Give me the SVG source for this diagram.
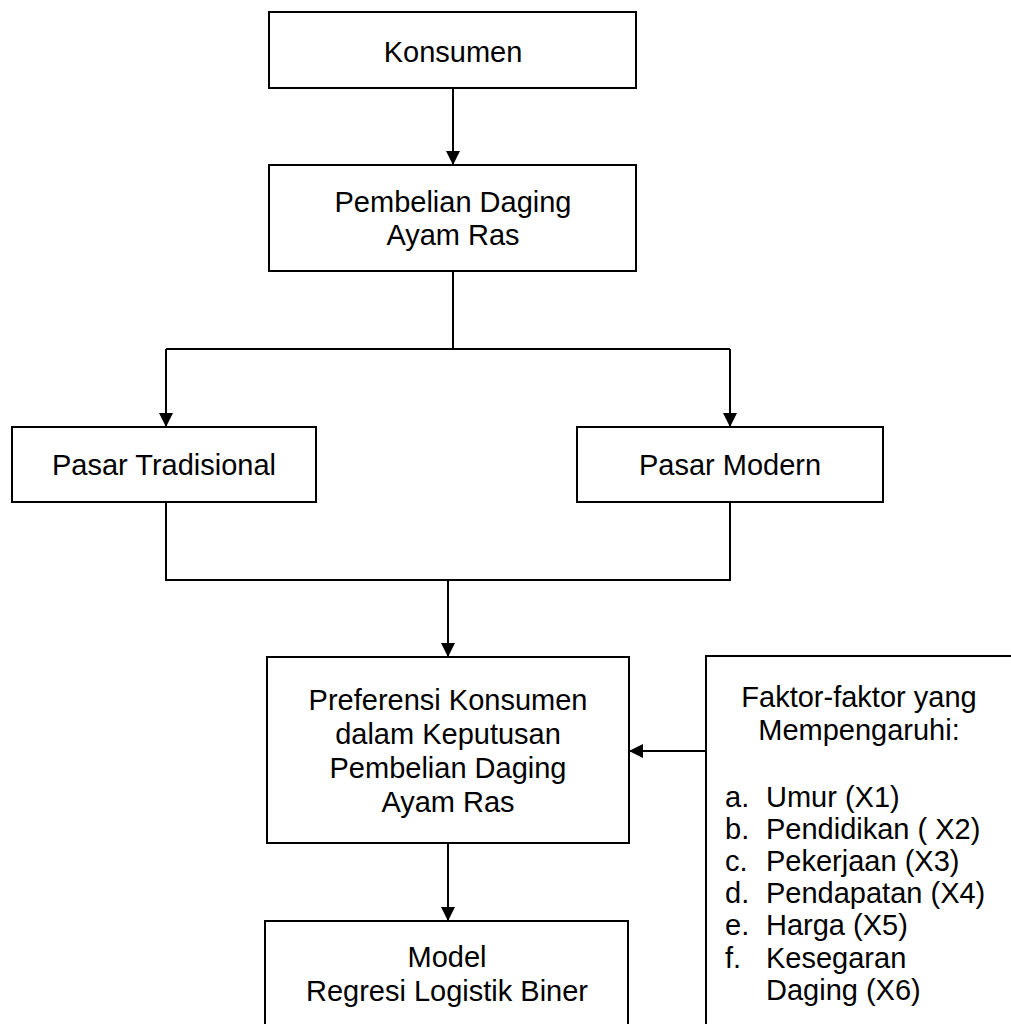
<svg xmlns="http://www.w3.org/2000/svg" width="1011" height="1024" viewBox="0 0 1011 1024">
<defs>
<marker id="arr" markerUnits="userSpaceOnUse" markerWidth="14" markerHeight="14" viewBox="0 0 14 14" refX="14" refY="7" orient="auto">
<path d="M0,0 L14,7 L0,14 z" fill="#000"/>
</marker>
<style>
.box{fill:#fff;stroke:#000;stroke-width:2}
.ln{fill:none;stroke:#000;stroke-width:2}
text{font-family:"Liberation Sans",Arial,sans-serif;font-size:29px;fill:#000}
.c{text-anchor:middle}
</style>
</defs>
<rect width="1011" height="1024" fill="#fff"/>
<g id="connectors">
<line class="ln" x1="453" y1="88" x2="453" y2="165" marker-end="url(#arr)"/>
<polyline class="ln" points="453,271 453,349"/>
<polyline class="ln" points="166,349 730,349"/>
<line class="ln" x1="166" y1="349" x2="166" y2="427" marker-end="url(#arr)"/>
<line class="ln" x1="730" y1="349" x2="730" y2="427" marker-end="url(#arr)"/>
<polyline class="ln" points="166,502 166,580 730,580 730,502"/>
<line class="ln" x1="448" y1="580" x2="448" y2="657" marker-end="url(#arr)"/>
<line class="ln" x1="448" y1="843" x2="448" y2="921" marker-end="url(#arr)"/>
<line class="ln" x1="706" y1="751" x2="629" y2="751" marker-end="url(#arr)"/>
</g>
<g id="konsumen">
<rect class="box" x="269" y="12" width="367" height="76"/>
<text class="c" x="453" y="62">Konsumen</text>
</g>
<g id="pembelian">
<rect class="box" x="269" y="165" width="367" height="106"/>
<text class="c" x="453" y="212">Pembelian Daging</text>
<text class="c" x="453" y="245">Ayam Ras</text>
</g>
<g id="pasar-tradisional">
<rect class="box" x="12" y="427" width="304" height="75"/>
<text class="c" x="164" y="475">Pasar Tradisional</text>
</g>
<g id="pasar-modern">
<rect class="box" x="577" y="427" width="306" height="75"/>
<text class="c" x="730" y="475">Pasar Modern</text>
</g>
<g id="preferensi">
<rect class="box" x="267" y="657" width="362" height="186"/>
<text class="c" x="448" y="710">Preferensi Konsumen</text>
<text class="c" x="448" y="744">dalam Keputusan</text>
<text class="c" x="448" y="778">Pembelian Daging</text>
<text class="c" x="448" y="812">Ayam Ras</text>
</g>
<g id="model">
<rect class="box" x="265" y="921" width="363" height="130"/>
<text class="c" x="447" y="967">Model</text>
<text class="c" x="447" y="1001">Regresi Logistik Biner</text>
</g>
<g id="faktor">
<rect class="box" x="706" y="656" width="340" height="400"/>
<text class="c" x="859" y="707">Faktor-faktor yang</text>
<text class="c" x="859" y="740">Mempengaruhi:</text>
<text x="725" y="807">a.</text><text x="766" y="807">Umur (X1)</text>
<text x="725" y="839">b.</text><text x="766" y="839">Pendidikan ( X2)</text>
<text x="725" y="871">c.</text><text x="766" y="871">Pekerjaan (X3)</text>
<text x="725" y="903">d.</text><text x="766" y="903">Pendapatan (X4)</text>
<text x="725" y="935">e.</text><text x="766" y="935">Harga (X5)</text>
<text x="725" y="968">f.</text><text x="766" y="968">Kesegaran</text>
<text x="766" y="1000">Daging (X6)</text>
</g>
</svg>
